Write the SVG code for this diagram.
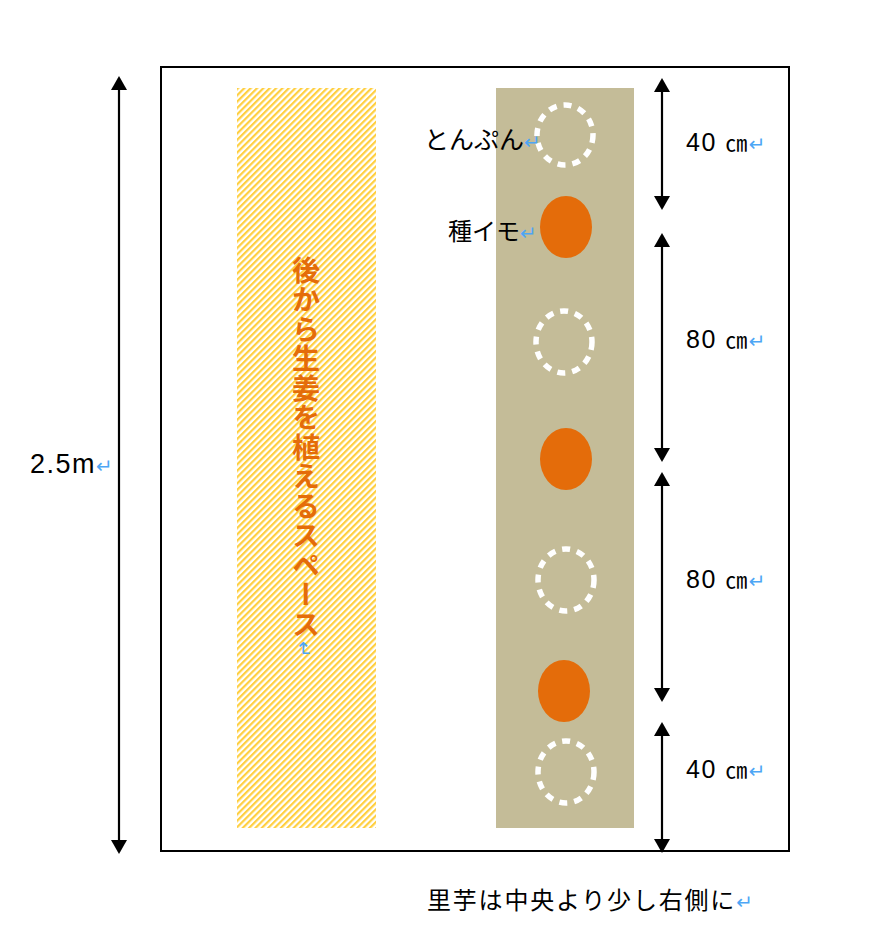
<svg xmlns="http://www.w3.org/2000/svg" width="894" height="952" viewBox="0 0 894 952">
<defs>
<pattern id="hatch" patternUnits="userSpaceOnUse" width="4.5" height="4.5" patternTransform="rotate(45)">
<rect width="4.5" height="4.5" fill="#ffffff"/>
<rect width="2.2" height="4.5" fill="#ffcf40"/>
</pattern>
<marker id="ah" viewBox="0 0 14 16" refX="12" refY="8" markerWidth="14" markerHeight="16" markerUnits="userSpaceOnUse" orient="auto-start-reverse">
<path d="M0,0 L14,8 L0,16 Z" fill="#000"/>
</marker>
<style>
.t{font-family:"Noto Sans CJK JP","Liberation Sans",sans-serif;fill:#000}
.n{font-family:"Liberation Sans","Noto Sans CJK JP",sans-serif;fill:#000;letter-spacing:1.5px}
.pm{fill:#4da6f5;font-family:"DejaVu Sans",sans-serif;letter-spacing:0}
.dash{fill:none;stroke:#fff;stroke-width:5.5;stroke-dasharray:8 7}
.seed{fill:#e46c0a}
.dim{stroke:#000;stroke-width:2.2;fill:none;marker-start:url(#ah);marker-end:url(#ah)}
</style>
</defs>
<rect width="894" height="952" fill="#fff"/>
<g id="frame"><rect x="161" y="67" width="628" height="784" fill="none" stroke="#000" stroke-width="2"/></g>
<g id="ginger-space">
<rect x="237" y="88" width="139" height="740" fill="url(#hatch)"/>
<text x="306" y="256" class="t" style="writing-mode:vertical-rl;font-size:28px;font-weight:bold;fill:#e46c0a;letter-spacing:1.5px">後から生姜を植えるスペース</text>
<text x="0" y="0" class="pm" font-size="20" transform="translate(297,641) rotate(90)">↵</text>
</g>
<g id="row">
<rect x="496" y="88" width="138" height="740" fill="#c4bc98"/>
</g>
<g id="tonpun1"><ellipse cx="565" cy="135" rx="28" ry="30" class="dash"/></g>
<g id="seed1"><ellipse cx="566" cy="227" rx="26" ry="31" class="seed"/></g>
<g id="tonpun2"><ellipse cx="564" cy="342" rx="28" ry="31" class="dash"/></g>
<g id="seed2"><ellipse cx="566" cy="459" rx="26" ry="31" class="seed"/></g>
<g id="tonpun3"><ellipse cx="566" cy="580" rx="28" ry="31" class="dash"/></g>
<g id="seed3"><ellipse cx="564" cy="691" rx="26" ry="31" class="seed"/></g>
<g id="tonpun4"><ellipse cx="566" cy="772" rx="28" ry="31" class="dash"/></g>
<g id="connectors">
<line x1="119" y1="78" x2="119" y2="852" class="dim"/>
<line x1="662" y1="80" x2="662" y2="208" class="dim"/>
<line x1="662" y1="235" x2="662" y2="460" class="dim"/>
<line x1="662" y1="474" x2="662" y2="700" class="dim"/>
<line x1="662" y1="724" x2="662" y2="851" class="dim"/>
</g>
<g id="labels">
<text x="30" y="473" class="n" font-size="27">2.5m<tspan class="pm" font-size="20">↵</tspan></text>
<text x="424" y="149" class="t" font-size="25">とんぷん<tspan class="pm" font-size="20">↵</tspan></text>
<text x="448" y="240" class="t" font-size="24">種イモ<tspan class="pm" font-size="20">↵</tspan></text>
<text x="686" y="151" class="n" font-size="25">40 <tspan class="t" font-size="22">㎝</tspan><tspan class="pm" font-size="20">↵</tspan></text>
<text x="686" y="348" class="n" font-size="25">80 <tspan class="t" font-size="22">㎝</tspan><tspan class="pm" font-size="20">↵</tspan></text>
<text x="686" y="588" class="n" font-size="25">80 <tspan class="t" font-size="22">㎝</tspan><tspan class="pm" font-size="20">↵</tspan></text>
<text x="686" y="778" class="n" font-size="25">40 <tspan class="t" font-size="22">㎝</tspan><tspan class="pm" font-size="20">↵</tspan></text>
<text x="427" y="909" class="t" font-size="24" letter-spacing="1.8">里芋は中央より少し右側に<tspan class="pm" font-size="20">↵</tspan></text>
</g>
</svg>
